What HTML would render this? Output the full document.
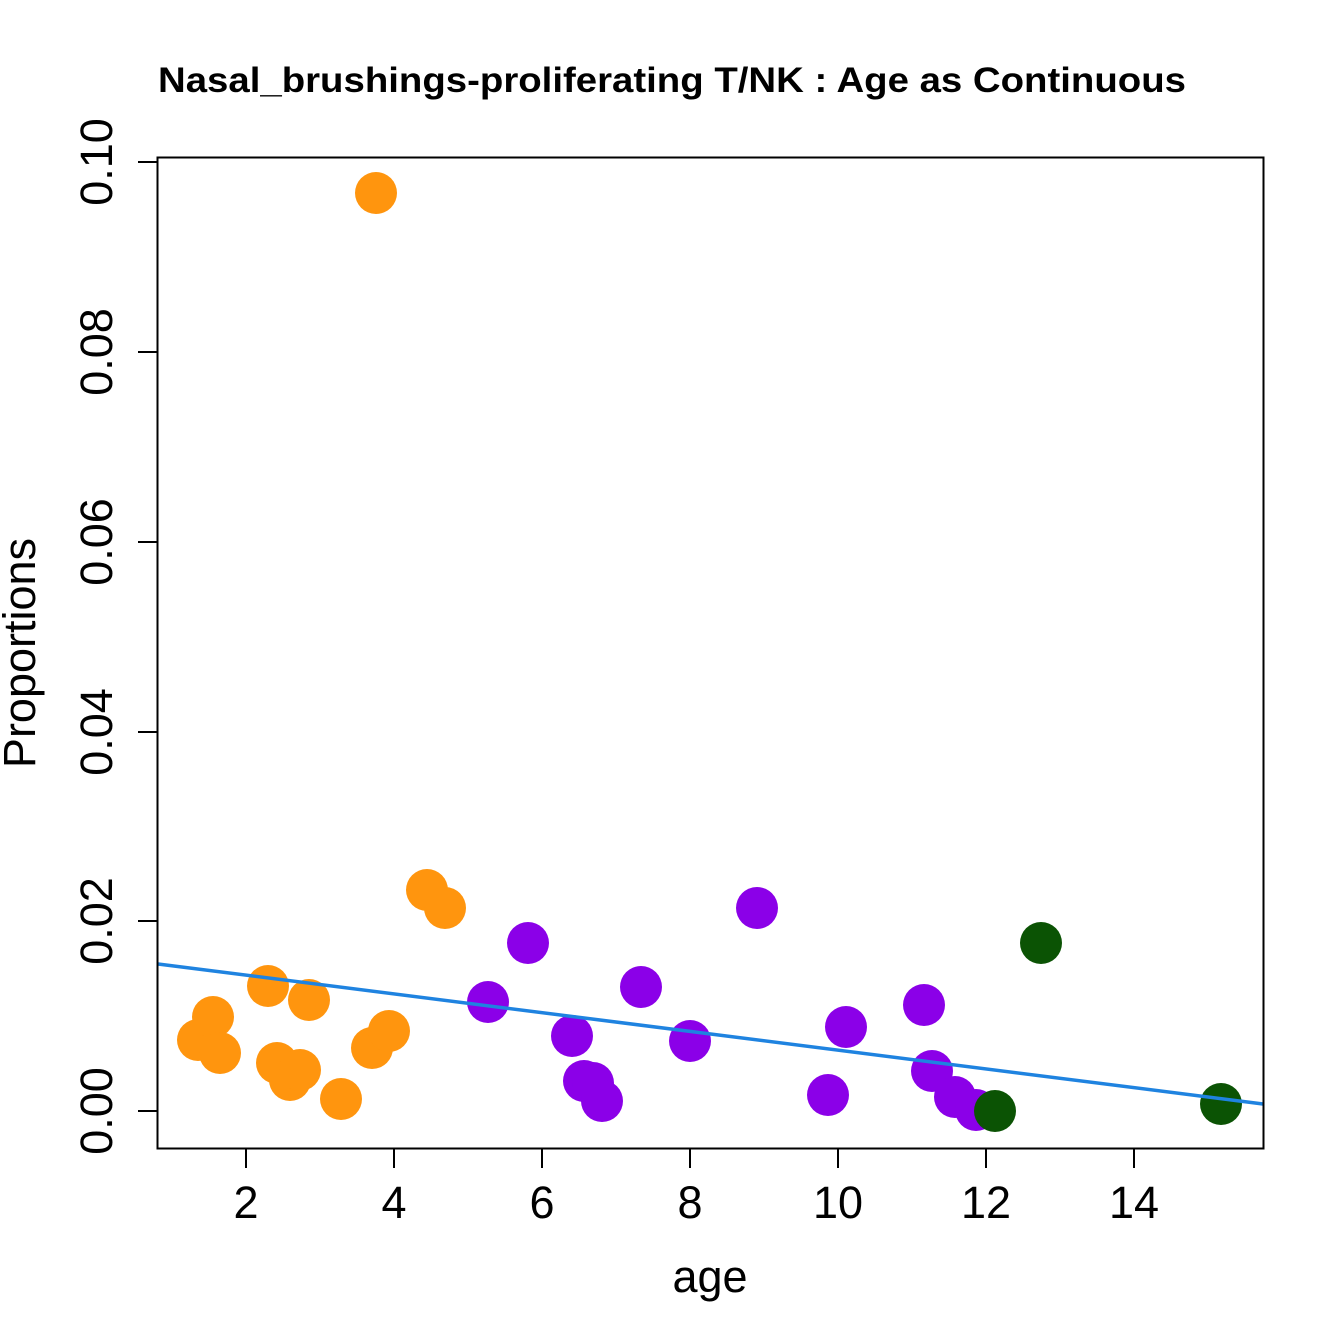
<!DOCTYPE html>
<html><head><meta charset="utf-8"><style>html,body{margin:0;padding:0;background:#fff}svg{display:block}</style></head><body>
<svg width="1344" height="1344" viewBox="0 0 1344 1344" xmlns="http://www.w3.org/2000/svg" font-family="Liberation Sans, Arial, sans-serif">
<rect width="1344" height="1344" fill="#fff"/>
<text x="672" y="92" text-anchor="middle" font-size="35" font-weight="bold" textLength="1028" lengthAdjust="spacingAndGlyphs">Nasal_brushings-proliferating T/NK : Age as Continuous</text>
<g fill="#FF950E">
<circle cx="376" cy="193" r="21"/><circle cx="198" cy="1040" r="21"/><circle cx="213" cy="1017" r="21"/><circle cx="220" cy="1053" r="21"/><circle cx="268" cy="986" r="21"/><circle cx="277" cy="1063" r="21"/><circle cx="290" cy="1080" r="21"/><circle cx="300" cy="1070" r="21"/><circle cx="309" cy="1000" r="21"/><circle cx="341" cy="1099" r="21"/><circle cx="372" cy="1048" r="21"/><circle cx="389" cy="1031" r="21"/><circle cx="427" cy="890" r="21"/><circle cx="445" cy="908" r="21"/>
</g>
<g fill="#8B00E8">
<circle cx="488" cy="1002" r="21"/><circle cx="528" cy="943" r="21"/><circle cx="572" cy="1036" r="21"/><circle cx="584" cy="1081" r="21"/><circle cx="593" cy="1083" r="21"/><circle cx="602" cy="1101" r="21"/><circle cx="641" cy="987" r="21"/><circle cx="690" cy="1041" r="21"/><circle cx="757" cy="908" r="21"/><circle cx="828" cy="1095" r="21"/><circle cx="846" cy="1027" r="21"/><circle cx="924" cy="1005" r="21"/><circle cx="932" cy="1071" r="21"/><circle cx="955" cy="1097" r="21"/><circle cx="976" cy="1110" r="21"/>
</g>
<g fill="#0B5304">
<circle cx="995" cy="1111" r="21"/><circle cx="1041" cy="943" r="21"/><circle cx="1221" cy="1104" r="21"/>
</g>
<line x1="158" y1="964" x2="1263" y2="1104" stroke="#1F83E0" stroke-width="3.5"/>
<rect x="157.5" y="157.5" width="1106" height="991" fill="none" stroke="#000" stroke-width="2"/>
<g stroke="#000" stroke-width="2">
<line x1="246" y1="1148" x2="246" y2="1168"/><line x1="394" y1="1148" x2="394" y2="1168"/><line x1="542" y1="1148" x2="542" y2="1168"/><line x1="690" y1="1148" x2="690" y2="1168"/><line x1="838" y1="1148" x2="838" y2="1168"/><line x1="986" y1="1148" x2="986" y2="1168"/><line x1="1134" y1="1148" x2="1134" y2="1168"/>
<line x1="138" y1="1111" x2="157" y2="1111"/><line x1="138" y1="921" x2="157" y2="921"/><line x1="138" y1="732" x2="157" y2="732"/><line x1="138" y1="542" x2="157" y2="542"/><line x1="138" y1="352" x2="157" y2="352"/><line x1="138" y1="162" x2="157" y2="162"/>
</g>
<g font-size="45" text-anchor="middle">
<text x="246" y="1218">2</text><text x="394" y="1218">4</text><text x="542" y="1218">6</text><text x="690" y="1218">8</text><text x="838" y="1218">10</text><text x="986" y="1218">12</text><text x="1134" y="1218">14</text>
<text transform="translate(112,1111) rotate(-90)">0.00</text>
<text transform="translate(112,921) rotate(-90)">0.02</text>
<text transform="translate(112,732) rotate(-90)">0.04</text>
<text transform="translate(112,542) rotate(-90)">0.06</text>
<text transform="translate(112,352) rotate(-90)">0.08</text>
<text transform="translate(112,162) rotate(-90)">0.10</text>
<text x="710" y="1292">age</text>
<text transform="translate(35,653) rotate(-90)">Proportions</text>
</g>
</svg>
</body></html>
